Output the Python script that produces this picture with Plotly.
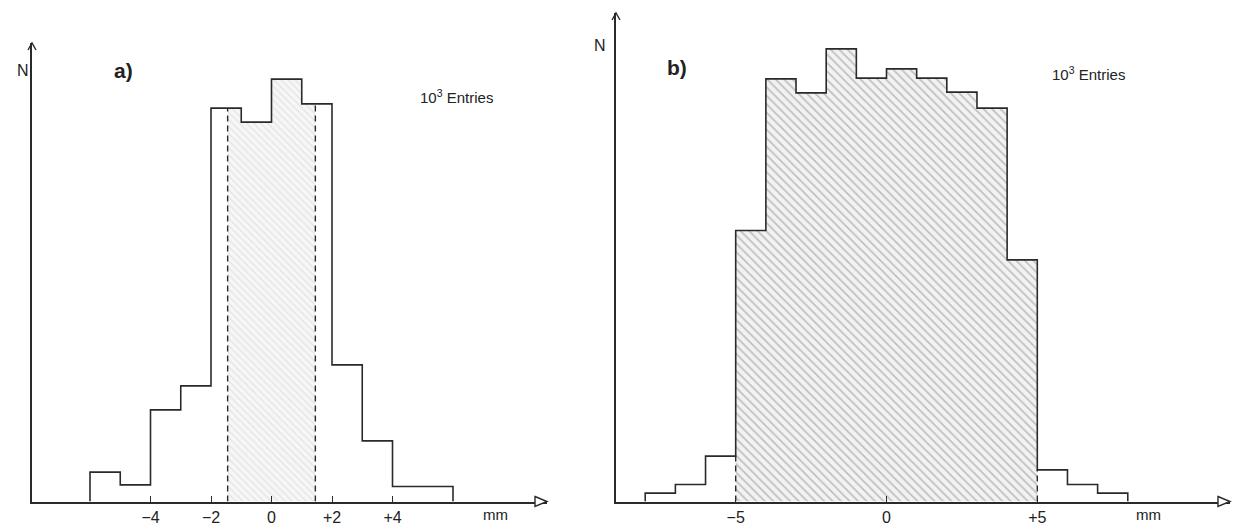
import numpy as np
import plotly.graph_objects as go

# ---------------- data (N in arbitrary units) ----------------
bin_width = 1.0  # mm

# panel a
a_bin_lo = [-6, -5, -4, -3, -2, -1, 0, 1, 2, 3, 4, 5]
a_counts = [8.8, 5.0, 27.5, 34.7, 118.0, 113.8, 126.7, 119.3, 41.0, 18.2, 4.5, 4.5]
a_cuts = [-1.45, 1.45]
a_tickvals = [-4, -2, 0, 2, 4]
a_ticktext = ["\u22124", "\u22122", "0", "+2", "+4"]

# panel b
b_bin_lo = [-8, -7, -6, -5, -4, -3, -2, -1, 0, 1, 2, 3, 4, 5, 6, 7]
b_counts = [2.5, 5.1, 13.6, 81.3, 126.8, 122.6, 135.8, 127.0,
            129.8, 127.0, 122.8, 118.0, 72.5, 9.5, 5.1, 2.5]
b_cuts = [-5.0, 5.0]
b_tickvals = [-5, 0, 5]
b_ticktext = ["\u22125", "0", "+5"]

# ---------------- helpers ----------------
W, H = 1233, 526


def px(x):
    return x / W


def py(y):
    return 1 - y / H


def step_outline(lo, counts, w):
    edges = list(lo) + [lo[-1] + w]
    xs, ys = [edges[0]], [0.0]
    for i, c in enumerate(counts):
        xs += [edges[i], edges[i + 1]]
        ys += [c, c]
    xs.append(edges[-1])
    ys.append(0.0)
    return xs, ys


def height_at(lo, counts, w, x, side):
    eps = 1e-9 if side == "right" else -1e-9
    for l, c in zip(lo, counts):
        if l <= x + eps < l + w:
            return c
    return 0.0


def shaded_region(lo, counts, w, c0, c1):
    xs, ys = [c0, c0], [0.0, height_at(lo, counts, w, c0, "right")]
    edges = list(lo) + [lo[-1] + w]
    for e in edges:
        if c0 < e < c1:
            xs += [e, e]
            ys += [height_at(lo, counts, w, e, "left"), height_at(lo, counts, w, e, "right")]
    xs += [c1, c1]
    ys += [height_at(lo, counts, w, c1, "left"), 0.0]
    return xs, ys


LINE = "#2a2a2a"
fig = go.Figure()

panels = [
    dict(lo=a_bin_lo, counts=a_counts, cuts=a_cuts, xa="x", ya="y",
         pattern=dict(shape="\\", fgcolor="#c4c4c4", bgcolor="#f6f6f6", size=5, solidity=0.18)),
    dict(lo=b_bin_lo, counts=b_counts, cuts=b_cuts, xa="x2", ya="y2",
         pattern=dict(shape="\\", fgcolor="#8a8a8a", bgcolor="#f2f2f2", size=6, solidity=0.28)),
]

for p in panels:
    sx, sy = shaded_region(p["lo"], p["counts"], bin_width, p["cuts"][0], p["cuts"][1])
    fig.add_trace(go.Scatter(x=sx, y=sy, mode="lines", fill="toself",
                             fillpattern=p["pattern"], fillcolor="rgba(0,0,0,0)",
                             line=dict(width=0), hoverinfo="skip",
                             xaxis=p["xa"], yaxis=p["ya"]))
    ox, oy = step_outline(p["lo"], p["counts"], bin_width)
    fig.add_trace(go.Scatter(x=ox, y=oy, mode="lines",
                             line=dict(color=LINE, width=1.6),
                             xaxis=p["xa"], yaxis=p["ya"]))
    for c in p["cuts"]:
        h = min(height_at(p["lo"], p["counts"], bin_width, c, "left"),
                height_at(p["lo"], p["counts"], bin_width, c, "right"))
        fig.add_trace(go.Scatter(x=[c, c], y=[0, h], mode="lines",
                                 line=dict(color=LINE, width=1.4, dash="6px,4px"),
                                 xaxis=p["xa"], yaxis=p["ya"]))

# ---------------- axes geometry (pixel based) ----------------
base_y = 501.5
a_x0, a_x1, a_zero, a_scale, a_top = 32, 547, 271.5, 30.25, 43
b_x0, b_x1, b_zero, b_scale, b_top = 616, 1230, 886.5, 30.16, 13
units_per_px = 0.3

FONT = "Liberation Sans, Arial, Helvetica, sans-serif"
common_x = dict(showline=True, linecolor=LINE, linewidth=1.6, showgrid=False,
                zeroline=False, ticks="inside", ticklen=6, tickwidth=1.3,
                tickcolor=LINE, automargin=False,
                tickfont=dict(family=FONT, size=16, color="#222"))
common_y = dict(showline=True, linecolor=LINE, linewidth=1.6, showgrid=False,
                zeroline=False, showticklabels=False, ticks="", automargin=False)

fig.update_layout(
    width=W, height=H,
    margin=dict(l=0, r=0, t=0, b=0),
    paper_bgcolor="white", plot_bgcolor="white",
    showlegend=False,
    xaxis=dict(domain=[px(a_x0), px(a_x1)],
               range=[(a_x0 - a_zero) / a_scale, (a_x1 - a_zero) / a_scale],
               tickvals=a_tickvals, ticktext=a_ticktext, anchor="y", **common_x),
    yaxis=dict(domain=[py(base_y), py(a_top)],
               range=[0, (base_y - a_top) * units_per_px], anchor="x", **common_y),
    xaxis2=dict(domain=[px(b_x0), px(b_x1)],
                range=[(b_x0 - b_zero) / b_scale, (b_x1 - b_zero) / b_scale],
                tickvals=b_tickvals, ticktext=b_ticktext, anchor="y2", **common_x),
    yaxis2=dict(domain=[py(base_y), py(b_top)],
                range=[0, (base_y - b_top) * units_per_px], anchor="x2", **common_y),
)

# ---------------- text ----------------
texts = [
    ("N", 15, 70, 16, False, "middle"),
    ("a)", 112, 70, 21, True, "middle"),
    ("10<sup>3</sup> Entries", 457, 97, 15, False, "middle"),
    ("mm", 495, 525, 15, False, "bottom"),
    ("N", 600, 46, 16, False, "middle"),
    ("b)", 677, 67, 21, True, "middle"),
    ("10<sup>3</sup> Entries", 1127, 73, 15, False, "middle"),
    ("mm", 1163, 525, 15, False, "bottom"),
]
for t, x, y, s, bold, ya in texts:
    fig.add_annotation(x=px(x), y=py(y), xref="paper", yref="paper", yanchor=ya,
                       text=("<b>%s</b>" % t) if bold else t, showarrow=False,
                       font=dict(family=FONT, size=s, color="#222"))

# ---------------- arrow heads (decoration, paper coordinates) ----------------
def path(points, close):
    d = "M " + " L ".join("%.5f,%.5f" % (px(x), py(y)) for x, y in points)
    return d + (" Z" if close else "")


for x1 in (a_x1, b_x1):
    fig.add_shape(type="path", xref="paper", yref="paper",
                  path=path([(x1 - 12, base_y - 5), (x1, base_y), (x1 - 12, base_y + 5)], True),
                  line=dict(color=LINE, width=1.4), fillcolor="white")
for x0, top in ((a_x0, a_top), (b_x0, b_top)):
    fig.add_shape(type="path", xref="paper", yref="paper",
                  path=path([(x0 - 4, top + 7), (x0, top), (x0 + 4, top + 7)], False),
                  line=dict(color=LINE, width=1.4))

fig.write_html("out.html", config={"displayModeBar": False},
               post_script="document.body.style.margin='0px';document.body.style.padding='0px';")
